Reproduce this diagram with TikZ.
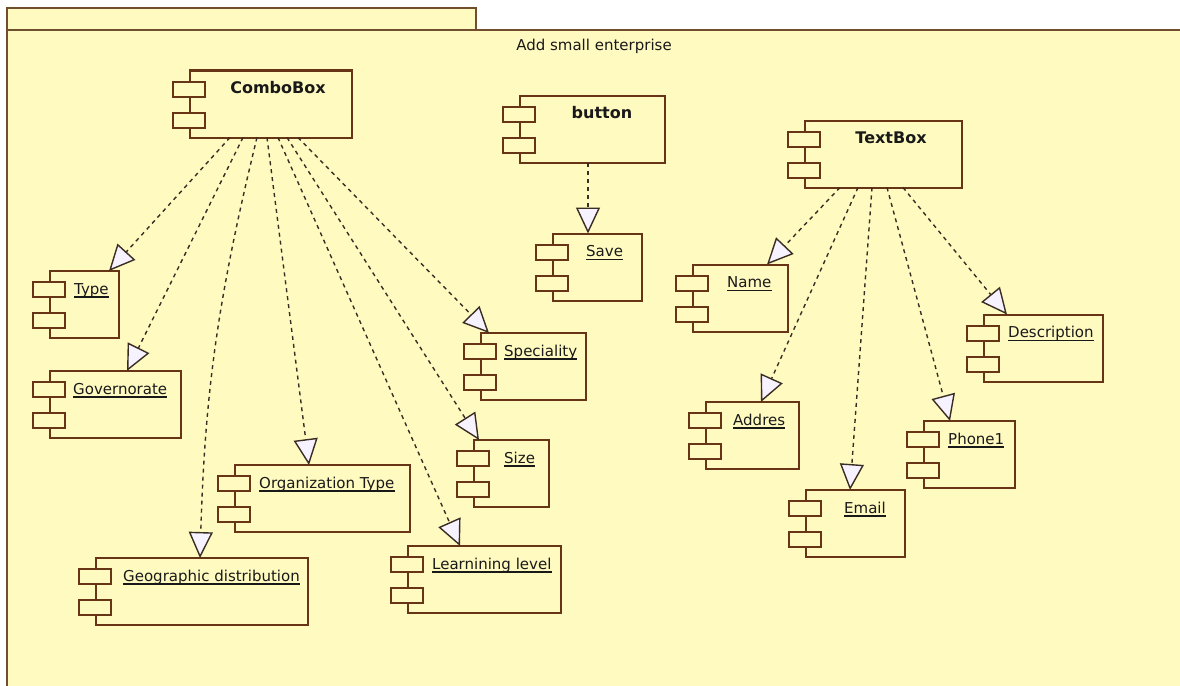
\documentclass[tikz,border=0pt]{standalone}
\usepackage{fontspec}
\setmainfont{DejaVu Sans}
\usetikzlibrary{arrows.meta}

\definecolor{pkgfill}{RGB}{255,250,192}
\definecolor{pkgline}{RGB}{112,78,46}
\definecolor{compline}{RGB}{104,52,22}
\definecolor{depline}{RGB}{58,46,36}
\definecolor{arrowfill}{RGB}{246,242,255}

% component box with its two port rectangles on the left edge
\newcommand\umlcomp[3]{%
  \node[compbox, minimum width=#3pt] (#1) at (#2) {};
  \draw[port] ([xshift=-17pt,yshift=-11pt]#1.north west) rectangle ([xshift=15pt,yshift=-26pt]#1.north west);
  \draw[port] ([xshift=-17pt,yshift=-42pt]#1.north west) rectangle ([xshift=15pt,yshift=-57pt]#1.north west);
}
% underlined instance name
\newcommand\complabel[3]{%
  \node[lbl, anchor=base west] (#1-lbl) at ([xshift=#2pt,yshift=-23pt]#1.north west) {#3};
  \draw[uline] ([yshift=-3pt]#1-lbl.base west) -- ([yshift=-3pt]#1-lbl.base east);
}
% bold type name
\newcommand\comptitle[3]{%
  \node[ttl, anchor=base] (#1-ttl) at ([xshift=#2pt,yshift=-23pt]#1.north) {#3};
}

\begin{document}
\begin{tikzpicture}[x=1pt,y=-1pt,
  pkg/.style={draw=pkgline, fill=pkgfill, line width=2pt},
  compbox/.style={draw=compline, fill=pkgfill, line width=2pt, minimum height=67pt, inner sep=0pt, outer sep=0pt},
  port/.style={draw=compline, fill=pkgfill, line width=2pt},
  lbl/.style={inner sep=0pt, font=\fontsize{15}{18}\selectfont, text=black!90},
  ttl/.style={inner sep=0pt, font=\fontsize{16}{19}\selectfont\bfseries, text=black!90},
  uline/.style={draw=black!90, line width=1.2pt},
  dep/.style={draw=depline, line width=1.4pt, dash pattern=on 4pt off 4pt,
    -{Triangle[length=26pt,width=24pt,fill=arrowfill]}},
]
\path[use as bounding box, fill=white] (0,0) rectangle (1180,685);

% package with its tab
\begin{scope}
  \clip (0,0) rectangle (1180,685);
  \draw[pkg] (7,8) rectangle (476,30);
  \draw[pkg] (7,30) rectangle (1192,697);
\end{scope}
\node[lbl, anchor=base] (title) at (594,51) {Add small enterprise};

% type components
\umlcomp{combo}{271,104}{162}
\comptitle{combo}{7}{ComboBox}
\umlcomp{button}{592.5,129}{145}
\comptitle{button}{9.5}{button}
\umlcomp{textbox}{883.5,154}{157}
\comptitle{textbox}{7.5}{TextBox}

% instances
\umlcomp{type}{84.5,304.5}{69}
\complabel{type}{24}{Type}
\umlcomp{gov}{115.5,404.5}{131}
\complabel{gov}{23}{Governorate}
\umlcomp{geo}{202,591.5}{212}
\complabel{geo}{27}{Geographic distribution}
\umlcomp{org}{322.5,498.5}{175}
\complabel{org}{24}{Organization Type}
\umlcomp{learn}{484.5,579.5}{153}
\complabel{learn}{24}{Learnining level}
\umlcomp{size}{511.5,473.5}{75}
\complabel{size}{30}{Size}
\umlcomp{spec}{533.5,366.5}{105}
\complabel{spec}{23}{Speciality}
\umlcomp{save}{597.5,267}{89}
\complabel{save}{33}{Save}
\umlcomp{name}{740.5,298}{95}
\complabel{name}{34}{Name}
\umlcomp{addres}{752.5,435.5}{93}
\complabel{addres}{27}{Addres}
\umlcomp{email}{855.5,523.5}{99}
\complabel{email}{38}{Email}
\umlcomp{phone}{969.5,454.5}{91}
\complabel{phone}{24}{Phone1}
\umlcomp{desc}{1043.5,348}{119}
\complabel{desc}{24}{Description}

% dependencies
\draw[dep] ([xshift=40pt]combo.south west) -- ([xshift=59pt]type.north west);
\draw[dep] ([xshift=53pt]combo.south west) -- ([xshift=77pt]gov.north west);
\draw[dep] ([xshift=67pt]combo.south west) to[bend right=6] ([xshift=104pt]geo.north west);
\draw[dep] ([xshift=77pt]combo.south west) -- ([xshift=74pt]org.north west);
\draw[dep] ([xshift=88pt]combo.south west) -- ([xshift=52pt]learn.north west);
\draw[dep] ([xshift=97pt]combo.south west) -- ([xshift=5pt]size.north west);
\draw[dep] ([xshift=108pt]combo.south west) -- ([xshift=8pt]spec.north west);
\draw[dep] ([xshift=68pt]button.south west) -- ([xshift=35pt]save.north west);
\draw[dep] ([xshift=35pt]textbox.south west) -- ([xshift=74pt]name.north west);
\draw[dep] ([xshift=53pt]textbox.south west) -- ([xshift=55pt]addres.north west);
\draw[dep] ([xshift=67pt]textbox.south west) -- ([xshift=44pt]email.north west);
\draw[dep] ([xshift=82pt]textbox.south west) -- ([xshift=26pt]phone.north west);
\draw[dep] ([xshift=98pt]textbox.south west) -- ([xshift=23pt]desc.north west);
\end{tikzpicture}
\end{document}
